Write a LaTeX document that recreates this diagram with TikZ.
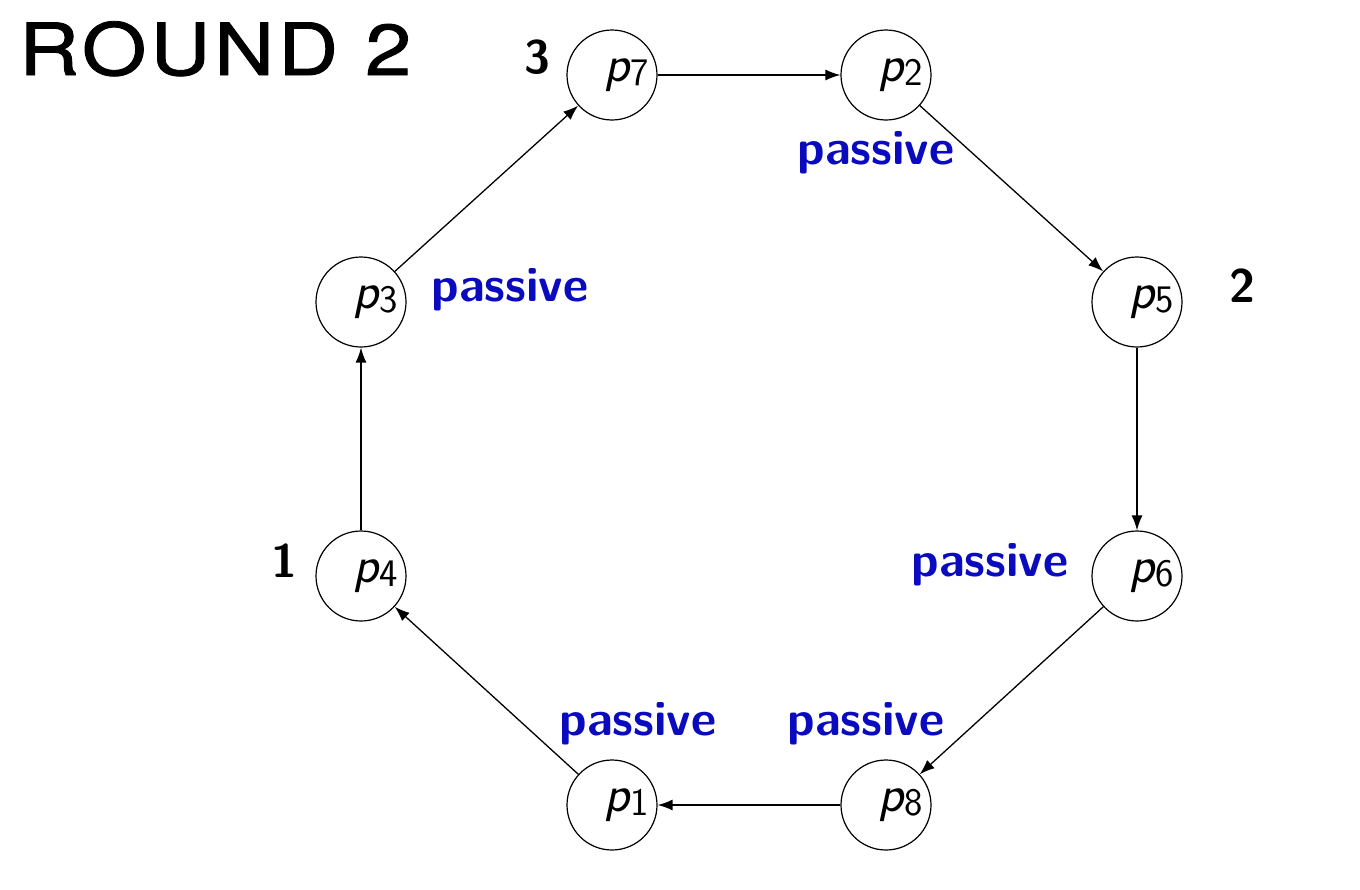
\documentclass[tikz,border=0pt]{standalone}
\usepackage{fontspec}
\newfontfamily\headfont[LetterSpace=5,FakeBold=1.2]{TeX Gyre Heros}
\usetikzlibrary{arrows.meta}
\definecolor{pblue}{RGB}{10,10,190}
\begin{document}
\begin{tikzpicture}[x=1pt,y=-1pt,
  proc/.style={draw,circle,line width=1.2pt,minimum size=90pt,inner sep=0pt,
    font=\fontsize{52}{56}\selectfont\sffamily},
  edge/.style={line width=1.3pt,-{Latex[length=15pt,width=11pt]}},
  pas/.style={text=pblue,font=\fontsize{49}{52}\selectfont\sffamily\bfseries,anchor=base,inner sep=0pt},
  num/.style={font=\fontsize{47}{50}\selectfont\sffamily\bfseries,anchor=base,inner sep=0pt}]
\useasboundingbox (0,0) rectangle (1360,889);
\newcommand\pp[1]{\hspace*{30pt}\textit{p}\kern-1pt\raisebox{-4pt}{\fontsize{39}{39}\selectfont #1}}
\node[proc] (p7) at (612,75) {\pp{7}};
\node[proc] (p2) at (886,75) {\pp{2}};
\node[proc] (p3) at (361,302) {\pp{3}};
\node[proc] (p5) at (1137,302) {\pp{5}};
\node[proc] (p4) at (361,576) {\pp{4}};
\node[proc] (p6) at (1137,576) {\pp{6}};
\node[proc] (p1) at (612,805) {\pp{1}};
\node[proc] (p8) at (886,805) {\pp{8}};
\draw[edge] (p7) -- (p2);
\draw[edge] (p2) -- (p5);
\draw[edge] (p5) -- (p6);
\draw[edge] (p6) -- (p8);
\draw[edge] (p8) -- (p1);
\draw[edge] (p1) -- (p4);
\draw[edge] (p4) -- (p3);
\draw[edge] (p3) -- (p7);
\node[anchor=base west,inner sep=0pt,xscale=1.15,font=\fontsize{72}{80}\selectfont\headfont] (title) at (19,75) {ROUND 2};
\node[num] (n3) at (537,73) {3};
\node[num] (n2) at (1242,302) {2};
\node[num] (n1) at (284,577) {1};
\node[pas] (l2) at (876,164) {passive};
\node[pas] (l3) at (510,301) {passive};
\node[pas] (l6) at (990,576) {passive};
\node[pas] (l1) at (638,735) {passive};
\node[pas] (l8) at (866,735) {passive};
\end{tikzpicture}
\end{document}
